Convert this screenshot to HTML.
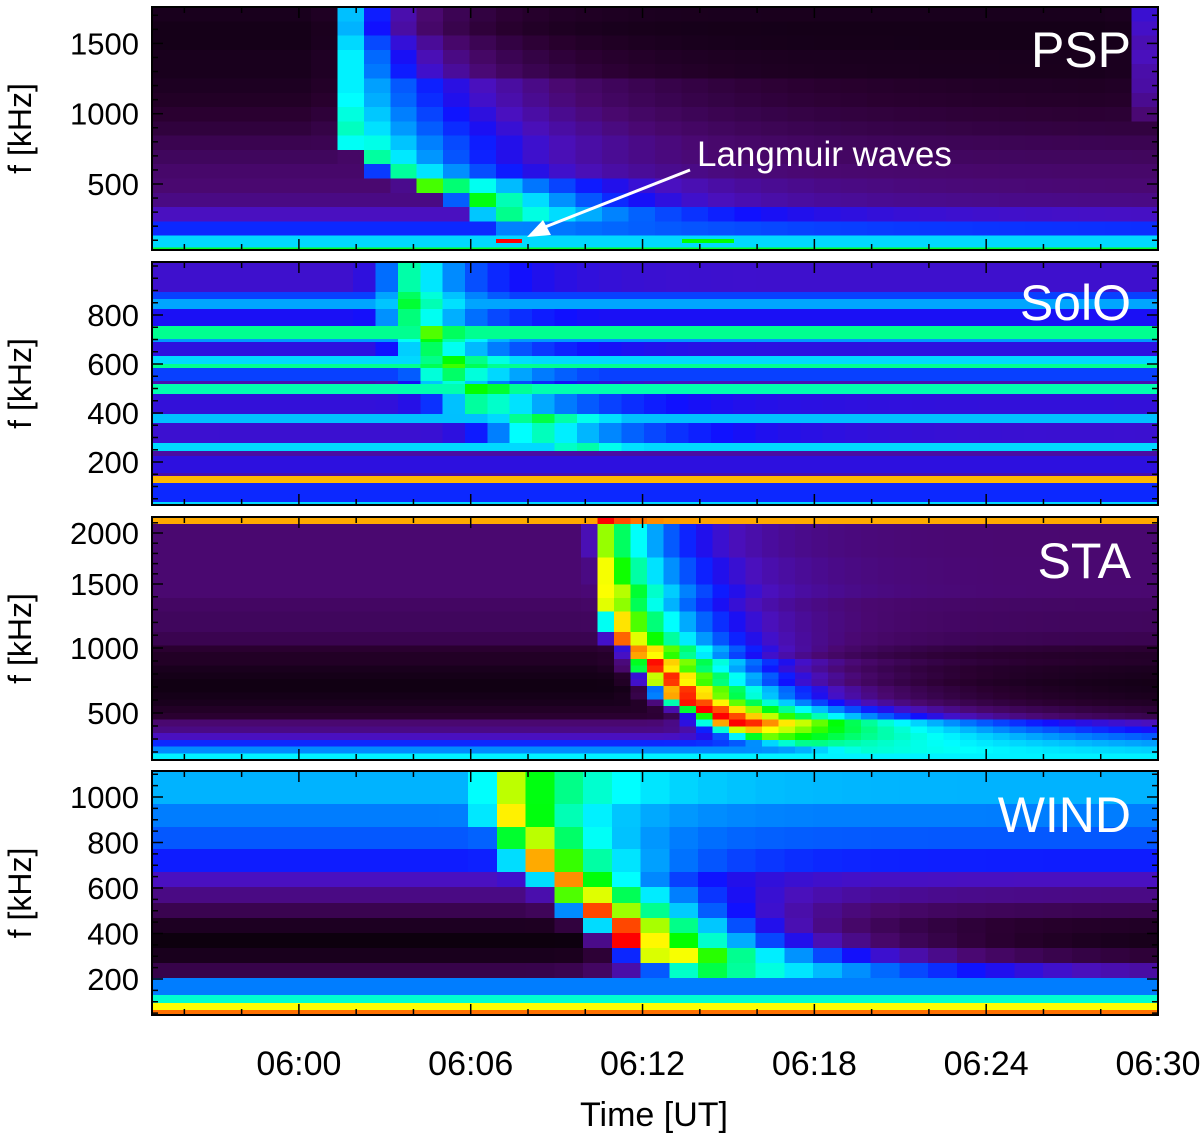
<!DOCTYPE html>
<html><head><meta charset="utf-8">
<style>
html,body{margin:0;padding:0;background:#fff;}
svg{display:block;font-family:"Liberation Sans",Arial,sans-serif;}
</style></head>
<body>
<svg id="chart" width="1200" height="1141" viewBox="0 0 1200 1141" xmlns="http://www.w3.org/2000/svg">
<g id="cells" shape-rendering="crispEdges"></g>
<g id="axes"></g>
</svg>
<script>
// ---------- shared time axis ----------
const tMin = -5.13, tMax = 30;          // minutes relative to 06:00
const xTickLabels = ["06:00","06:06","06:12","06:18","06:24","06:30"];
const xTickMinutes = [0,6,12,18,24,30];

// ---------- PSP (17 equal channels, top -> bottom) ----------
const pspCols = 38;
const pspBg   = [.06,.05,.05,.06,.06,.07,.08,.10,.12,.15,.17,.19,.20,.22,.28,.36,.50];
const pspPeak = [1.81,1.81,1.81,1.81,1.81,1.81,1.81,1.81,1.81,2.0,2.73,3.2,4.5,6.0,6.8,7.5,0];
const pspAmp  = [.42,.42,.45,.46,.46,.45,.45,.45,.45,.45,.42,.45,.52,.50,.36,.08,0];
const pspDecay= [2.5,2.5,3.2,3.5,4,6,6,6,6,5.5,4.5,4,4.5,4,5,8,1];
const pspLate = [.24,.24,.22,.22,.2,.18,.15,.1,0,0,0,0,0,0,0,0,0];
const pspTicks = [500,1000,1500];
const langmuirStart = [6.88,13.38];
const langmuirEnd   = [7.79,15.2];
const langmuirLevel = [1.0,.68];

// ---------- SolO (uneven channels, edges in kHz, top -> bottom) ----------
const soloCols = 45;
const soloEdges = [1016,894,865,824,755,702,690,633,600,584,531,518,478,396,359,278,245,225,155,143,114,37,24.5];
const soloBg   = [.24,.38,.46,.33,.60,.45,.30,.50,.60,.38,.15,.58,.28,.48,.25,.50,.10,.30,.12,.87,.36,.50];
const soloPeak = [4.0,4.0,4.0,4.0,4.6,4.6,4.6,5.3,5.3,5.3,5.3,6.5,6.5,8.5,8.5,10,0,0,0,0,0,0];
const soloAmp  = [.30,.30,.30,.30,.32,.32,.32,.32,.32,.30,.30,.30,.30,.28,.28,.22,0,0,0,0,0,0];
const soloRise = [1.0,1.0,1.0,1.0,1.0,1.0,1.0,1.2,1.2,1.2,1.2,1.5,1.5,1.8,1.8,2,1,1,1,1,1,1];
const soloDecay= [2.0,2.0,2.0,2.0,2.4,2.4,2.4,2.8,2.8,2.8,2.8,3.2,3.2,3.5,3.5,3.5,1,1,1,1,1,1];
const soloTicks = [200,400,600,800];

// ---------- STA (36 equal channels, top -> bottom) ----------
const staCols = 61;
const staBg   = [.88,.20,.20,.20,.20,.20,.20,.20,.20,.20,.20,.20,.18,.18,.17,.17,.17,.15,.15,.10,.08,.08,.06,.05,.04,.04,.05,.06,.08,.10,.20,.22,.28,.36,.44,.52];
const staPeak = [10.7,10.5,10.5,10.5,10.5,10.5,10.6,10.6,10.6,10.6,10.8,10.8,10.8,10.8,11.0,11.0,11.0,11.3,11.3,12.0,12.0,12.4,12.4,12.9,12.9,13.4,13.4,13.8,14.3,14.9,15.3,15.8,16.5,18,20,0];
const staAmp  = [.12,.60,.60,.60,.60,.60,.64,.64,.64,.64,.68,.68,.68,.68,.74,.74,.74,.78,.78,.85,.85,.92,.92,.95,.95,.97,.97,.97,.95,.92,.85,.65,.45,.25,.12,0];
const staRise = [.3,.25,.25,.25,.25,.25,.25,.25,.25,.25,.3,.3,.3,.3,.35,.35,.35,.45,.45,.6,.6,.8,.8,.9,.9,1,1,1,1,1.1,1.2,1.3,1.5,2,2,1];
const staDecay= [1,2.3,2.3,2.3,2.3,2.3,2.5,2.5,2.5,2.5,2.6,2.6,2.6,2.6,2.8,2.8,2.8,3,3,3.2,3.2,3.5,3.5,3.6,3.6,3.8,3.8,4,4.5,5,6,8,10,12,12,1];
const staTicks = [500,1000,1500,2000];
const staTickY = [713,648,584,533];

// ---------- WIND (uneven channels, top -> bottom) ----------
const windCols = 35;
const windEdges = [1114,969,868,771,670,604,534,468,402,336,270,204,130,95,64,42];
const windBg   = [.47,.43,.40,.35,.28,.22,.15,.07,.03,.06,.14,.43,.56,.82,.92];
const windPeak = [7.42,7.42,8.02,8.42,9.43,9.93,10.43,11.44,11.44,12.94,14.45,0,0,0,0];
const windAmp  = [.30,.40,.45,.53,.62,.68,.80,.88,.97,.82,.50,0,0,0,0];
const windRise = [.8,.8,.8,.9,1.0,.9,1.0,1.2,.8,1.5,2.5,1,1,1,1];
const windDecay= [2.5,2.0,2.0,2.5,2.2,3,3.5,4,5,6,10,1,1,1,1];
const windTicks = [200,400,600,800,1000];

// ---------- geometry ----------
const X0 = 152, X1 = 1158;
const xOf = t => X0 + (t - tMin) / (tMax - tMin) * (X1 - X0);
const panels = {
  psp:  {y0:7,   y1:250},
  solo: {y0:262, y1:505},
  sta:  {y0:517, y1:760},
  wind: {y0:771, y1:1015}
};
const pspScale  = f => 250 - (f - 30.6) * 0.1406;
const soloScale = f => 505 - (f - 24.5) * 0.245;
const windScale = f => 979 - (f - 200) * 0.2275;
function staScale(f){
  let i = 0;
  if (f <= staTicks[0]) i = 0; else if (f >= staTicks[staTicks.length-1]) i = staTicks.length-2;
  else { while (f > staTicks[i+1]) i++; }
  const a = staTicks[i], b = staTicks[i+1];
  return staTickY[i] + (f - a) / (b - a) * (staTickY[i+1] - staTickY[i]);
}

// ---------- colormap ----------
const cmV = [0,.1,.2,.28,.34,.42,.48,.53,.6,.68,.76,.82,.88,.94,1];
const cmC = ["#000000","#2a0030","#4a0870","#4a10c0","#1010ff","#0070ff","#00c0ff","#00ffff","#00ff90","#00ff00","#b0ff00","#ffff00","#ffaa00","#ff5500","#ff0000"];
function hex(h){return [parseInt(h.substr(1,2),16),parseInt(h.substr(3,2),16),parseInt(h.substr(5,2),16)];}
function cmap(v){
  v = Math.max(0, Math.min(1, v));
  let i = 0; while (i < cmV.length-2 && v > cmV[i+1]) i++;
  const f = (v - cmV[i]) / (cmV[i+1] - cmV[i]);
  const a = hex(cmC[i]), b = hex(cmC[i+1]);
  return "rgb(" + a.map((c,k)=>Math.round(c + (b[k]-c)*f)).join(",") + ")";
}
function burst(t, p, A, wr, wd){
  if (!A) return 0;
  return t < p ? A * Math.exp(-Math.pow((p - t) / wr, 2)) : A * Math.exp(-(t - p) / wd);
}

const NS = "http://www.w3.org/2000/svg";
const cells = document.getElementById("cells");
const axes = document.getElementById("axes");
function mk(tag, attrs, parent){
  const e = document.createElementNS(NS, tag);
  for (const k in attrs) e.setAttribute(k, attrs[k]);
  parent.appendChild(e);
  return e;
}

function drawGrid(name, nCols, rowEdgesY, valueFn){
  const bw = (tMax - tMin) / nCols;
  const g = mk("g", {}, cells);
  
  
  for (let r = 0; r < rowEdgesY.length - 1; r++){
    for (let c = 0; c < nCols; c++){
      const t0 = tMin + c * bw, tc = t0 + bw / 2;
      const xa = xOf(t0), xb = xOf(t0 + bw);
      const ya = rowEdgesY[r], yb = rowEdgesY[r+1];
      const rect = mk("rect", {x:xa.toFixed(2), y:ya.toFixed(2), width:(xb-xa+0.6).toFixed(2), height:(yb-ya+0.6).toFixed(2), fill:cmap(valueFn(r, tc))}, g);
      
      
    }
  }
}
function equalRows(p, n){ const a=[]; for(let i=0;i<=n;i++) a.push(p.y0 + (p.y1-p.y0)*i/n); return a; }

// PSP
drawGrid("psp", pspCols, equalRows(panels.psp, pspBg.length), (r,t) =>
  pspBg[r] + burst(t, pspPeak[r], pspAmp[r], 0.5, pspDecay[r]) + burst(t, 29.6, pspLate[r], 0.5, 0.5));
{
  const ln = mk("rect",{x:X0,y:247.5,width:X1-X0,height:2.5,fill:cmap(.66)},cells);
  
  
  for (let i=0;i<langmuirStart.length;i++){
    const a = xOf(langmuirStart[i]), b = xOf(langmuirEnd[i]);
    const m = mk("rect",{x:a,y:239,width:b-a,height:4,fill:cmap(langmuirLevel[i])},cells);
    
    
  }
}
// SolO (burst saturates onto bright bands)
drawGrid("solo", soloCols, soloEdges.map(soloScale), (r,t) =>
  Math.max(soloBg[r], soloBg[r]*0.3 + 0.22 + burst(t, soloPeak[r], soloAmp[r], soloRise[r], soloDecay[r])));
// STA
drawGrid("sta", staCols, equalRows(panels.sta, staBg.length), (r,t) =>
  staBg[r] + burst(t, staPeak[r], staAmp[r], staRise[r], staDecay[r]));
// WIND
drawGrid("wind", windCols, windEdges.map(windScale), (r,t) =>
  windBg[r] + burst(t, windPeak[r], windAmp[r], windRise[r], windDecay[r]));

// ---------- axes ----------
function drawAxes(name, p, scale, ticks, minorStep, fLo, fHi, label, labelY){
  const g = mk("g", {}, axes);
  
  
  const fr = mk("rect",{x:X0,y:p.y0,width:X1-X0,height:p.y1-p.y0,fill:"none",stroke:"#000","stroke-width":2},g);
  
  
  for (let f = Math.ceil(fLo/minorStep)*minorStep; f <= fHi; f += minorStep){
    const y = scale(f); if (y < p.y0+1 || y > p.y1-1) continue;
    const major = ticks.indexOf(f) >= 0;
    const L = major ? 11 : 6;
    mk("line",{x1:X0,x2:X0+L,y1:y,y2:y,stroke:"#000","stroke-width":1.5},g);
    mk("line",{x1:X1,x2:X1-L,y1:y,y2:y,stroke:"#000","stroke-width":1.5},g);
  }
  ticks.forEach(f=>{
    const t = mk("text",{x:139,y:scale(f)+11,"text-anchor":"end","font-size":31,fill:"#000"},g);
    t.textContent = f;
    
    
  });
  for (let m = -4; m <= 30; m += 2){
    const x = xOf(m); const major = m % 6 === 0; const L = major ? 11 : 6;
    mk("line",{x1:x,x2:x,y1:p.y1,y2:p.y1-L,stroke:"#000","stroke-width":1.5},g);
    mk("line",{x1:x,x2:x,y1:p.y0,y2:p.y0+L,stroke:"#000","stroke-width":1.5},g);
  }
  const yt = mk("text",{x:0,y:0,"text-anchor":"middle","font-size":32,fill:"#000",transform:`translate(31 ${(p.y0+p.y1)/2}) rotate(-90)`},g);
  yt.textContent = "f [kHz]";
  
  
  const lb = mk("text",{x:1131,y:labelY,"text-anchor":"end","font-size":50,fill:"#fff"},g);
  lb.textContent = label;
  
  
}
drawAxes("psp", panels.psp, pspScale, pspTicks, 100, 0, 1800, "PSP", 67);
drawAxes("solo", panels.solo, soloScale, soloTicks, 50, 0, 1050, "SolO", 320);
drawAxes("sta", panels.sta, staScale, staTicks, 100, 100, 2200, "STA", 578);
drawAxes("wind", panels.wind, windScale, windTicks, 50, 0, 1150, "WIND", 832);

xTickMinutes.forEach((m,i)=>{
  const t = mk("text",{x:xOf(m),y:1075,"text-anchor":"middle","font-size":34,fill:"#000"},axes);
  t.textContent = xTickLabels[i];
  
  
});
{
  const t = mk("text",{x:654,y:1126,"text-anchor":"middle","font-size":34,fill:"#000"},axes);
  t.textContent = "Time [UT]";
  
  
  const a = mk("text",{x:697,y:166,"font-size":35,fill:"#fff"},axes);
  a.textContent = "Langmuir waves";
  
  
  const l = mk("line",{x1:690,y1:170,x2:540,y2:229,stroke:"#fff","stroke-width":3},axes);
  
  
  const h = mk("polygon",{points:"527,237 543,220 551,235",fill:"#fff"},axes);
  
  
}
</script>
</body></html>
